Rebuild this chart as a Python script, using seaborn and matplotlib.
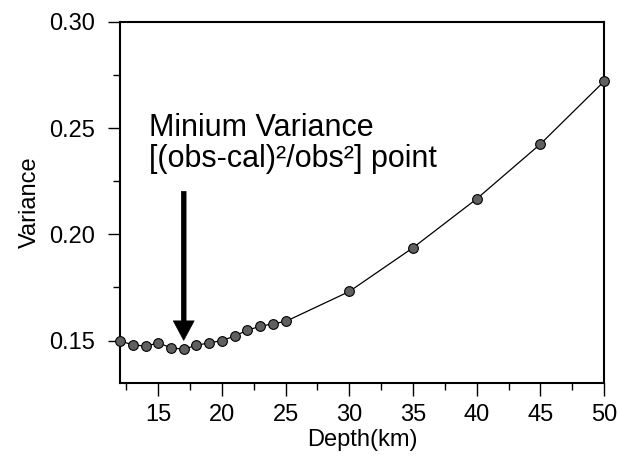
import matplotlib
matplotlib.use("Agg")
import matplotlib.pyplot as plt
from matplotlib.ticker import MultipleLocator, FormatStrFormatter
import pandas as pd
import seaborn as sns

# depth (km) and variance
depth = [12, 13, 14, 15, 16, 17, 18, 19, 20, 21, 22, 23, 24, 25, 30, 35, 40, 45, 50]
variance = [0.1497, 0.1481, 0.1473, 0.1489, 0.1466, 0.1459, 0.1478, 0.1489, 0.1500,
            0.1521, 0.1549, 0.1567, 0.1579, 0.1590, 0.1731, 0.1937, 0.2167, 0.2425, 0.2720]
min_depth = 17
label_line1 = "Minium Variance"
label_line2 = "[(obs-cal)²/obs²] point"

sns.set_style("ticks")
plt.rcParams['font.family'] = ['Liberation Sans', 'DejaVu Sans']
for k in ['text.color', 'axes.labelcolor', 'xtick.color', 'ytick.color', 'axes.edgecolor']:
    plt.rcParams[k] = 'black'

df = pd.DataFrame({'Depth': depth, 'Variance': variance})

fig = plt.figure(figsize=(6.19, 4.66), dpi=100)
ax = fig.add_axes([0.1939, 0.178, 0.782, 0.775])

sns.lineplot(x='Depth', y='Variance', data=df, ax=ax, color='black', lw=0.9,
             marker='o', markersize=7, markerfacecolor='#606060',
             markeredgecolor='black', markeredgewidth=0.8, clip_on=False, zorder=5)

ax.set_xlim(12, 50)
ax.set_ylim(0.13, 0.30)
ax.xaxis.set_major_locator(MultipleLocator(5))
ax.xaxis.set_minor_locator(MultipleLocator(2.5))
ax.yaxis.set_major_locator(MultipleLocator(0.05))
ax.yaxis.set_minor_locator(MultipleLocator(0.025))
ax.yaxis.set_major_formatter(FormatStrFormatter('%.2f'))
ax.tick_params(which='major', length=9, width=1, labelsize=17)
ax.tick_params(axis='y', which='major', pad=9)
ax.tick_params(axis='x', which='major', pad=6)
ax.tick_params(which='minor', length=5, width=1)
for s in ax.spines.values():
    s.set_linewidth(1.5)

ax.set_xlabel('Depth(km)', fontsize=17, labelpad=2)
ax.set_ylabel('Variance', fontsize=17, labelpad=6)

# arrow pointing at minimum
ax.annotate('', xy=(min_depth, 0.1488), xytext=(min_depth, 0.2215),
            arrowprops=dict(arrowstyle='simple,head_width=1.5,head_length=1.4,tail_width=0.34',
                            fc='black', ec='black', lw=0.5), zorder=6)
ax.text(14.25, 0.2461, label_line1, fontsize=22, va='baseline', ha='left')
ax.text(14.25, 0.2315, label_line2, fontsize=22, va='baseline', ha='left')

fig.savefig('out.png', dpi=100)
